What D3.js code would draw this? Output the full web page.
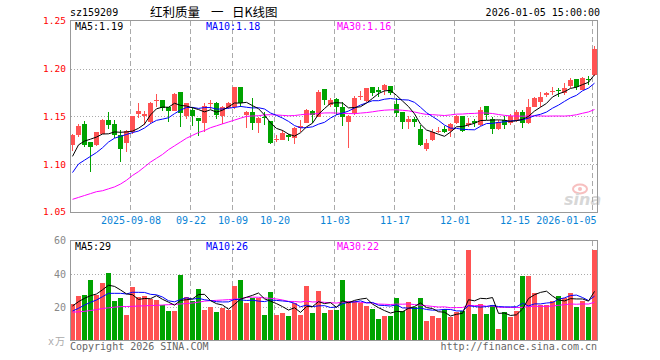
<!DOCTYPE html>
<html><head><meta charset="utf-8">
<script src="https://cdn.jsdelivr.net/npm/d3@7"></script>
<style>body{margin:0;background:#fff}svg{display:block}</style>
</head><body><svg id="c" width="660" height="360"></svg>
<script>
const dates = ["2025-08-25","2025-08-26","2025-08-27","2025-08-28","2025-08-29",
"2025-09-01","2025-09-02","2025-09-03","2025-09-04","2025-09-05","2025-09-08","2025-09-09","2025-09-10","2025-09-11","2025-09-12",
"2025-09-15","2025-09-16","2025-09-17","2025-09-18","2025-09-19","2025-09-22","2025-09-23","2025-09-24","2025-09-25","2025-09-26","2025-09-29","2025-09-30",
"2025-10-09","2025-10-10","2025-10-13","2025-10-14","2025-10-15","2025-10-16","2025-10-17","2025-10-20","2025-10-21","2025-10-22","2025-10-23","2025-10-24",
"2025-10-27","2025-10-28","2025-10-29","2025-10-30","2025-10-31",
"2025-11-03","2025-11-04","2025-11-05","2025-11-06","2025-11-07","2025-11-10","2025-11-11","2025-11-12","2025-11-13","2025-11-14",
"2025-11-17","2025-11-18","2025-11-19","2025-11-20","2025-11-21","2025-11-24","2025-11-25","2025-11-26","2025-11-27","2025-11-28",
"2025-12-01","2025-12-02","2025-12-03","2025-12-04","2025-12-05","2025-12-08","2025-12-09","2025-12-10","2025-12-11","2025-12-12",
"2025-12-15","2025-12-16","2025-12-17","2025-12-18","2025-12-19","2025-12-22","2025-12-23","2025-12-24","2025-12-25","2025-12-26",
"2025-12-29","2025-12-30","2025-12-31","2026-01-05"];

const open = [1.120,1.130,1.1415,1.123,1.120,1.131,1.146,1.1415,1.130,1.122,
1.133,1.152,1.150,1.144,1.166,1.167,1.160,1.156,1.175,1.150,
1.157,1.1485,1.1425,1.163,1.164,1.150,1.159,1.160,1.181,1.1513,
1.1548,1.1433,1.1496,1.1454,1.125,1.125,1.1304,1.1269,1.1373,1.1426,
1.1558,1.1496,1.1782,1.1618,1.1677,1.160,1.1443,1.153,1.1698,1.1663,
1.1803,1.178,1.178,1.1817,1.1628,1.1548,1.1443,1.1468,1.1367,1.1154,
1.1251,1.1345,1.1363,1.1349,1.1426,1.1503,1.1409,1.1454,1.1409,1.1607,
1.1472,1.1363,1.146,1.1433,1.146,1.1548,1.1426,1.160,1.1653,1.1723,
1.1765,1.177,1.1747,1.1817,1.1887,1.1775,1.1888,1.1932];
const high = [1.131,1.142,1.1454,1.123,1.134,1.147,1.154,1.146,1.136,1.136,
1.150,1.1635,1.155,1.165,1.173,1.167,1.160,1.174,1.175,1.164,
1.160,1.1485,1.1635,1.167,1.1645,1.161,1.165,1.181,1.181,1.156,
1.1687,1.149,1.1548,1.1454,1.1304,1.1356,1.131,1.139,1.146,1.158,
1.1565,1.1775,1.1782,1.1687,1.1695,1.1653,1.1513,1.1712,1.1768,1.180,
1.1807,1.181,1.1838,1.1817,1.1687,1.1548,1.1503,1.149,1.141,1.1258,
1.1365,1.1384,1.1398,1.1433,1.151,1.1503,1.1478,1.1468,1.160,1.1607,
1.149,1.146,1.1503,1.1523,1.1565,1.1565,1.1677,1.1705,1.1757,1.1757,
1.181,1.180,1.1845,1.1897,1.1887,1.1915,1.1922,1.2235];
const low = [1.114,1.128,1.1175,1.092,1.119,1.131,1.137,1.127,1.102,1.113,
1.131,1.148,1.141,1.142,1.160,1.156,1.144,1.155,1.139,1.147,
1.140,1.129,1.134,1.158,1.147,1.1415,1.158,1.158,1.160,1.1373,
1.1356,1.1328,1.1408,1.121,1.1234,1.125,1.124,1.1206,1.1339,1.1426,
1.1426,1.1488,1.1618,1.160,1.1513,1.1398,1.117,1.1513,1.167,1.1653,
1.1712,1.1705,1.1722,1.1722,1.1488,1.1366,1.1366,1.139,1.1188,1.114,
1.1244,1.132,1.132,1.1286,1.142,1.1338,1.1384,1.1384,1.140,1.146,
1.1314,1.1356,1.1363,1.1409,1.1443,1.1374,1.1415,1.160,1.160,1.1705,
1.1723,1.1705,1.1723,1.180,1.1775,1.1775,1.1827,1.1925];
const close = [1.130,1.140,1.120,1.118,1.133,1.146,1.141,1.130,1.116,1.135,
1.150,1.156,1.152,1.164,1.167,1.159,1.155,1.173,1.153,1.1635,
1.150,1.1455,1.161,1.164,1.151,1.160,1.1635,1.181,1.1635,1.1548,
1.1426,1.1478,1.1478,1.1223,1.1258,1.132,1.1287,1.1373,1.1398,1.1565,
1.1513,1.1757,1.167,1.167,1.160,1.1496,1.1503,1.1687,1.1712,1.1792,
1.174,1.1757,1.1827,1.174,1.153,1.1443,1.1468,1.1445,1.120,1.1223,
1.1338,1.135,1.1339,1.1419,1.1503,1.1349,1.1433,1.1426,1.1565,1.1513,
1.1363,1.1443,1.1409,1.1503,1.1548,1.1433,1.160,1.1688,1.1705,1.1747,
1.1768,1.1765,1.180,1.1878,1.181,1.1904,1.1884,1.220];
const volume = [21.9,26.7,27.3,36.3,27.3,34.5,40.5,23.7,25.7,15.3,
32.1,26.3,26.7,25.0,24.3,21.3,17.7,17.7,39.3,26.3,
23.7,30.9,18.3,20.3,17.3,19.7,18.3,32.7,36.3,22.7,
25.5,25.3,15.3,29.3,15.3,16.5,14.9,22.3,15.3,32.7,
16.5,29.7,16.5,18.3,18.3,36.3,23.7,23.7,22.3,20.7,
18.9,12.9,14.9,14.9,25.7,17.7,23.3,20.3,25.7,11.7,
14.9,13.7,18.9,14.3,16.9,17.7,54.5,15.7,21.7,15.7,
21.3,6.9,16.9,14.3,17.7,38.5,38.5,28.3,21.3,21.3,
24.0,26.7,25.3,28.3,20.3,24.0,20.3,54.5];

// moving-average values at the start of the window (history before the chart)
const ma5Lead = [1.108,1.120,1.124,1.126];
const ma10Lead = [1.091,1.100,1.104,1.108,1.112,1.117,1.123,1.127,1.129];
const ma30Lead = [1.063,1.065,1.067,1.069,1.071,1.072,1.074,1.076,1.079,1.083,
1.088,1.092,1.097,1.102,1.106,1.110,1.115,1.119,1.123,1.127,
1.130,1.133,1.135,1.138,1.140,1.142,1.144,1.146,1.148];
const volMa5Lead = [20.7,23.3,25.3,26.9];
const volMa10Lead = [17.7,19.3,21.3,22.9,24.3,26.3,28.3,28.3,28.3];
const volMa30Lead = [17.0,17.2,17.5,18.0,18.5,19.2,19.6,20.0,20.3,20.4,
20.5,20.7,20.8,21.0,21.1,21.3,21.5,21.7,21.9,22.2,
22.5,23.0,23.6,23.9,24.1,24.3,24.5,24.8,25.0];

const priceTicks = [1.05,1.10,1.15,1.20,1.25];
const volTicks = [20,40,60];
const tickDates = ["2025-09-08","2025-09-22","2025-10-09","2025-10-20","2025-11-03","2025-11-17","2025-12-01","2025-12-15","2026-01-05"];
const tickLabels = ["2025-09-08","09-22","10-09","10-20","11-03","11-17","12-01","12-15","2026-01-05"];
const titleParts = ["红利质量", "一", "日K线图"];

const RED = "#ff5252", GREEN = "#00a300";
const MONO = "'DejaVu Sans Mono', monospace";
const CJK = "'Noto Sans CJK SC', sans-serif";
const svg = d3.select("#c");
const L = 70, R = 598;
const xi = d3.scaleLinear().domain([0, dates.length]).range([L, R]);
const y = d3.scaleLinear().domain([1.05, 1.25]).range([211.75, 20.75]);
const yv = d3.scaleLinear().domain([0, 60]).range([340.5, 240.5]);
const P = {top: 20.5, bottom: 212.5}, V = {top: 240.5, bottom: 340.5};

function ma(vals, n, lead) {
  return vals.map((v, i) => i < n - 1 ? lead[i] : d3.mean(vals.slice(i - n + 1, i + 1)));
}
const ma5 = ma(close, 5, ma5Lead), ma10 = ma(close, 10, ma10Lead), ma30 = ma(close, 30, ma30Lead);
const vma5 = ma(volume, 5, volMa5Lead), vma10 = ma(volume, 10, volMa10Lead), vma30 = ma(volume, 30, volMa30Lead);

// gridlines
const g = svg.append("g").attr("shape-rendering", "crispEdges");
[1.10, 1.15, 1.20].forEach(p => g.append("line").attr("x1", L + 0.5).attr("x2", 597.5)
  .attr("y1", Math.round(y(p)) + 0.5).attr("y2", Math.round(y(p)) + 0.5)
  .attr("stroke", "#aaa").attr("stroke-dasharray", "1,2"));
[20, 40].forEach(v => g.append("line").attr("x1", L + 0.5).attr("x2", 597.5)
  .attr("y1", Math.round(yv(v)) + 0.5).attr("y2", Math.round(yv(v)) + 0.5)
  .attr("stroke", "#aaa").attr("stroke-dasharray", "1,2"));
tickDates.forEach(d => {
  const x = xi(dates.indexOf(d)) + 0.5;
  [[P.top, P.bottom], [V.top, V.bottom]].forEach(([a, b]) =>
    g.append("line").attr("x1", x).attr("x2", x).attr("y1", a).attr("y2", b)
      .attr("stroke", "#aaa").attr("stroke-dasharray", "5,3"));
});

// candles
const idx = d3.range(dates.length);
const col = i => close[i] >= open[i] ? RED : GREEN;
const cg = svg.append("g").attr("shape-rendering", "crispEdges");
cg.selectAll("line.w").data(idx).join("line")
  .attr("x1", i => xi(i) + 2.5).attr("x2", i => xi(i) + 2.5)
  .attr("y1", i => y(high[i])).attr("y2", i => y(low[i])).attr("stroke", col);
cg.selectAll("rect.b").data(idx).join("rect")
  .attr("x", i => xi(i)).attr("width", 5)
  .attr("y", i => y(Math.max(open[i], close[i])))
  .attr("height", i => Math.max(1, Math.abs(y(open[i]) - y(close[i]))))
  .attr("fill", col);

// volume bars
cg.append("g").selectAll("rect").data(idx).join("rect")
  .attr("x", i => xi(i)).attr("width", 5)
  .attr("y", i => yv(volume[i])).attr("height", i => V.bottom - yv(volume[i]))
  .attr("fill", col);

// MA lines
const lineP = d3.line().x((d, i) => xi(i) + 2.5).y(d => y(d));
const lineV = d3.line().x((d, i) => xi(i) + 2.5).y(d => yv(d));
[[ma30, "#ff00ff"], [ma10, "#0000ff"], [ma5, "#000000"]].forEach(([d, c]) =>
  svg.append("path").attr("d", lineP(d)).attr("fill", "none").attr("stroke", c).attr("stroke-width", 1));
[[vma30, "#ff00ff"], [vma10, "#0000ff"], [vma5, "#000000"]].forEach(([d, c]) =>
  svg.append("path").attr("d", lineV(d)).attr("fill", "none").attr("stroke", c).attr("stroke-width", 1));

// sina watermark
const wm = svg.append("g").attr("opacity", 0.5);
wm.append("ellipse").attr("cx", 580).attr("cy", 189).attr("rx", 7).attr("ry", 4.5)
  .attr("fill", "none").attr("stroke", "#f08080").attr("stroke-width", 2);
wm.append("circle").attr("cx", 580).attr("cy", 189).attr("r", 2).attr("fill", "#f08080");
wm.append("text").attr("x", 564).attr("y", 205).text("sina")
  .attr("font-family", "'DejaVu Sans', sans-serif").attr("font-style", "italic").attr("font-weight", "bold")
  .attr("font-size", 16).attr("fill", "#b0b0b0");

// frames
svg.append("g").attr("shape-rendering", "crispEdges").selectAll("rect")
  .data([P, V]).join("rect")
  .attr("x", L + 0.5).attr("y", d => d.top).attr("width", 597.5 - (L + 0.5)).attr("height", d => d.bottom - d.top)
  .attr("fill", "none").attr("stroke", "#999");

// axes
const ay = svg.append("g").attr("transform", `translate(${L},0)`)
  .call(d3.axisLeft(y).tickValues(priceTicks).tickFormat(d3.format(".2f")).tickSize(0).tickPadding(4));
ay.select(".domain").remove();
ay.selectAll("text").attr("fill", "#ff0000").attr("font-family", MONO).attr("font-size", 9.5);

const av = svg.append("g").attr("transform", `translate(${L},0)`)
  .call(d3.axisLeft(yv).tickValues(volTicks).tickFormat(d3.format("d")).tickSize(0).tickPadding(4));
av.select(".domain").remove();
av.selectAll("text").attr("fill", "#888").attr("font-family", MONO).attr("font-size", 10);

const ax = svg.append("g").attr("transform", `translate(0.5,212)`)
  .call(d3.axisBottom(xi).tickValues(tickDates.map(d => dates.indexOf(d)))
    .tickFormat((d, i) => tickLabels[i]).tickSize(0).tickPadding(5));
ax.select(".domain").remove();
ax.selectAll("text").attr("fill", "#0a84d6").attr("font-family", MONO).attr("font-size", 10);
ax.selectAll("text").filter((d, i, n) => i === n.length - 1).attr("text-anchor", "end").attr("dx", 3.5);

// texts
function t(x, yy, s, opt = {}) {
  return svg.append("text").attr("x", x).attr("y", yy).text(s)
    .attr("font-family", opt.ff || MONO).attr("font-size", opt.fs || 10)
    .attr("fill", opt.fill || "#000").attr("text-anchor", opt.anchor || "start");
}
t(70, 16, "sz159209");
[150, 211, 232].forEach((x, i) => t(x, 17, titleParts[i], {ff: CJK, fs: 12.5}));
t(600, 16, "2026-01-05 15:00:00", {anchor: "end"});
const last = dates.length - 1;
const f2 = d3.format(".2f");
t(75, 30, "MA5:" + f2(ma5[last]));
t(206, 30, "MA10:" + f2(ma10[last]), {fill: "#0000ff"});
t(337, 30, "MA30:" + f2(ma30[last]), {fill: "#ff00ff"});
t(75, 250, "MA5:" + Math.floor(vma5[last]));
t(206, 250, "MA10:" + Math.floor(vma10[last]), {fill: "#0000ff"});
t(337, 250, "MA30:" + Math.floor(vma30[last]), {fill: "#ff00ff"});
t(70, 350, "Copyright 2026 SINA.COM", {fill: "#666"});
t(597, 350, "http://finance.sina.com.cn", {fill: "#666", anchor: "end"});
t(48, 345, "x", {fill: "#aaa"});
t(55, 345, "万", {ff: CJK, fs: 10, fill: "#aaa"});
</script></body></html>
